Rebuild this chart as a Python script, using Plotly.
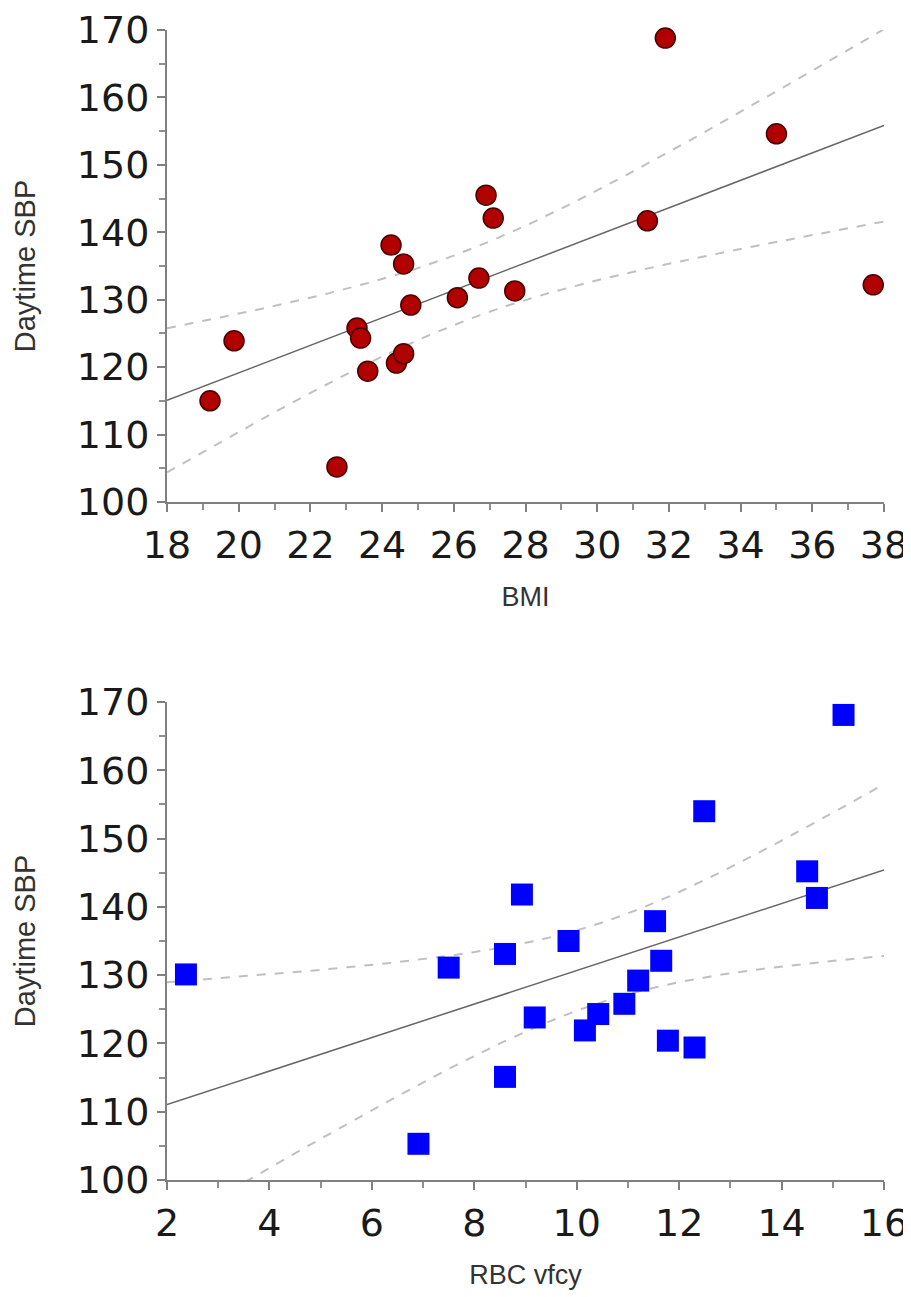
import numpy as np
import plotly.graph_objects as go

# ---- data ----
bmi = [19.2, 19.87, 22.74, 23.3, 23.4, 23.6, 24.25, 24.4, 24.6, 24.6,
       24.8, 26.1, 26.7, 26.9, 27.1, 27.7, 31.4, 31.9, 35.0, 37.7]
sbp_bmi = [115.0, 123.9, 105.2, 125.8, 124.3, 119.4, 138.1, 120.6, 122.0, 135.3,
           129.2, 130.3, 133.2, 145.5, 142.1, 131.3, 141.7, 168.8, 154.6, 132.2]

rbc = [2.37, 6.91, 7.50, 8.60, 8.60, 8.93, 9.18, 9.84, 10.16, 10.42,
       10.93, 11.2, 11.53, 11.65, 11.78, 12.30, 12.49, 14.5, 14.69, 15.21]
sbp_rbc = [130.1, 105.3, 131.1, 115.1, 133.1, 141.8, 123.8, 135.0, 121.9, 124.3,
           125.8, 129.2, 137.9, 132.1, 120.4, 119.4, 154.0, 145.2, 141.3, 168.1]

top_xticks = [18, 20, 22, 24, 26, 28, 30, 32, 34, 36, 38]
bot_xticks = [2, 4, 6, 8, 10, 12, 14, 16]
yticks = [100, 110, 120, 130, 140, 150, 160, 170]

T_CRIT = 2.101  # t(0.975, df=18)


def fit_ci(x, y, lo, hi):
    x = np.asarray(x, float)
    y = np.asarray(y, float)
    n = len(x)
    b, a = np.polyfit(x, y, 1)
    res = y - (a + b * x)
    s = np.sqrt(np.sum(res ** 2) / (n - 2))
    sxx = np.sum((x - x.mean()) ** 2)
    xs = np.linspace(lo, hi, 200)
    yh = a + b * xs
    se = s * np.sqrt(1.0 / n + (xs - x.mean()) ** 2 / sxx)
    return xs, yh, yh - T_CRIT * se, yh + T_CRIT * se


fig = go.Figure()

ci_style = dict(color="#c0c0c0", width=2, dash="dash")
fit_style = dict(color="#666666", width=1.5)

# top panel
xs, yh, ylo, yhi = fit_ci(bmi, sbp_bmi, 18, 38)
for yy, st in [(yhi, ci_style), (ylo, ci_style), (yh, fit_style)]:
    fig.add_trace(go.Scatter(x=xs, y=yy, mode="lines", line=st,
                             xaxis="x", yaxis="y", showlegend=False, hoverinfo="skip"))
fig.add_trace(go.Scatter(x=bmi, y=sbp_bmi, mode="markers", cliponaxis=False,
                         marker=dict(symbol="circle", size=20, color="#b00000",
                                     line=dict(color="#4a0000", width=1.5)),
                         xaxis="x", yaxis="y", showlegend=False))

# bottom panel
xs, yh, ylo, yhi = fit_ci(rbc, sbp_rbc, 2, 16)
for yy, st in [(yhi, ci_style), (ylo, ci_style), (yh, fit_style)]:
    fig.add_trace(go.Scatter(x=xs, y=yy, mode="lines", line=st,
                             xaxis="x2", yaxis="y2", showlegend=False, hoverinfo="skip"))
fig.add_trace(go.Scatter(x=rbc, y=sbp_rbc, mode="markers", cliponaxis=False,
                         marker=dict(symbol="square", size=22, color="#0000ff",
                                     line=dict(color="#000060", width=0)),
                         xaxis="x2", yaxis="y2", showlegend=False))

tickfont = dict(family="DejaVu Sans", size=38, color="#1a1a1a")
xtitlefont = dict(family="Liberation Sans, Arial", size=27, color="#333333")
ytitlefont = dict(family="Liberation Sans, Arial", size=29, color="#333333")
axis_common = dict(showline=True, linecolor="#808080", linewidth=2, ticks="outside",
                   ticklen=8, tickcolor="#808080", tickwidth=2, showgrid=False,
                   zeroline=False, tickfont=tickfont, automargin=False)
minor_x = dict(dtick=1, ticks="outside", ticklen=6, tickcolor="#909090")
minor_y = dict(dtick=5, ticks="outside", ticklen=6, tickcolor="#909090")

# the page body adds an 8px offset, so the figure is sized to fit the window
fig.update_layout(
    width=903, height=1289,
    margin=dict(l=159, r=27, t=22, b=117),
    paper_bgcolor="white", plot_bgcolor="white",
    xaxis=dict(domain=[0, 1], anchor="y", range=[18, 38], tickvals=top_xticks,
               minor=minor_x,
               title=dict(text="BMI", font=xtitlefont, standoff=22), **axis_common),
    yaxis=dict(domain=[0.5896, 1.0], anchor="x", range=[100, 170], tickvals=yticks,
               minor=minor_y,
               title=dict(text="Daytime SBP", font=ytitlefont, standoff=33), **axis_common),
    xaxis2=dict(domain=[0, 1], anchor="y2", range=[2, 16], tickvals=bot_xticks,
                minor=minor_x,
                title=dict(text="RBC vfcy", font=xtitlefont, standoff=22), **axis_common),
    yaxis2=dict(domain=[0, 0.4157], anchor="x2", range=[100, 170], tickvals=yticks,
                minor=minor_y,
                title=dict(text="Daytime SBP", font=ytitlefont, standoff=33), **axis_common),
)

fig.write_html("out.html")
